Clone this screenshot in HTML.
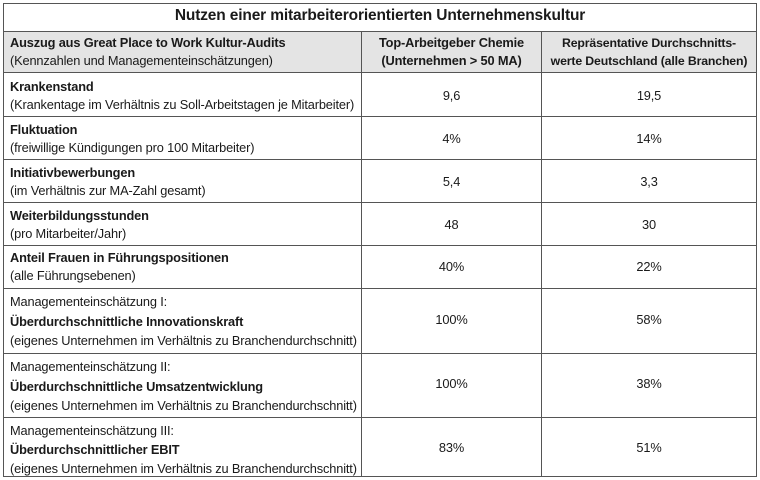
<!DOCTYPE html>
<html><head><meta charset="utf-8"><style>
body{margin:0;width:760px;height:480px;background:#fff;position:relative;font-family:"Liberation Sans",Arial,sans-serif;color:#1a1a1a;overflow:hidden}
.h{position:absolute;height:0;border-top:1.5px solid #555}
.v{position:absolute;width:0;border-left:1.5px solid #555}
.t{position:absolute;font-size:12.8px;white-space:nowrap;line-height:18px;letter-spacing:-0.15px}
.c{text-align:center}
b{font-weight:bold}
</style></head><body>
<div style="position:absolute;left:3px;top:31px;width:754px;height:41px;background:#e4e4e4"></div>
<div class="h" style="left:3px;top:3px;width:754px"></div>
<div class="h" style="left:3px;top:31px;width:754px"></div>
<div class="h" style="left:3px;top:72px;width:754px"></div>
<div class="h" style="left:3px;top:116px;width:754px"></div>
<div class="h" style="left:3px;top:159px;width:754px"></div>
<div class="h" style="left:3px;top:202px;width:754px"></div>
<div class="h" style="left:3px;top:245px;width:754px"></div>
<div class="h" style="left:3px;top:288px;width:754px"></div>
<div class="h" style="left:3px;top:353px;width:754px"></div>
<div class="h" style="left:3px;top:417px;width:754px"></div>
<div class="h" style="left:3px;top:476px;width:754px"></div>
<div class="v" style="left:3px;top:3px;height:474px"></div>
<div class="v" style="left:756px;top:3px;height:474px"></div>
<div class="v" style="left:361px;top:31px;height:446px"></div>
<div class="v" style="left:541px;top:31px;height:446px"></div>

<div class="t c" style="left:3px;width:754px;top:7px;font-size:15.5px;font-weight:bold">Nutzen einer mitarbeiterorientierten Unternehmenskultur</div>

<div class="t" style="left:10px;top:34px"><b>Auszug aus Great Place to Work Kultur-Audits</b><br>(Kennzahlen und Managementeinschätzungen)</div>
<div class="t c" style="left:362px;width:179px;top:34px"><b>Top-Arbeitgeber Chemie<br>(Unternehmen &gt; 50 MA)</b></div>
<div class="t c" style="left:542px;width:214px;top:34px;font-size:12.3px"><b>Repräsentative Durchschnitts-<br>werte Deutschland (alle Branchen)</b></div>

<div class="t" style="left:10px;top:78px"><b>Krankenstand</b><br>(Krankentage im Verhältnis zu Soll-Arbeitstagen je Mitarbeiter)</div>
<div class="t c" style="left:362px;width:179px;top:87px">9,6</div>
<div class="t c" style="left:542px;width:214px;top:87px">19,5</div>

<div class="t" style="left:10px;top:121px"><b>Fluktuation</b><br>(freiwillige Kündigungen pro 100 Mitarbeiter)</div>
<div class="t c" style="left:362px;width:179px;top:130px">4%</div>
<div class="t c" style="left:542px;width:214px;top:130px">14%</div>

<div class="t" style="left:10px;top:164px"><b>Initiativbewerbungen</b><br>(im Verhältnis zur MA-Zahl gesamt)</div>
<div class="t c" style="left:362px;width:179px;top:173px">5,4</div>
<div class="t c" style="left:542px;width:214px;top:173px">3,3</div>

<div class="t" style="left:10px;top:207px"><b>Weiterbildungsstunden</b><br>(pro Mitarbeiter/Jahr)</div>
<div class="t c" style="left:362px;width:179px;top:216px">48</div>
<div class="t c" style="left:542px;width:214px;top:216px">30</div>

<div class="t" style="left:10px;top:249px"><b>Anteil Frauen in Führungspositionen</b><br>(alle Führungsebenen)</div>
<div class="t c" style="left:362px;width:179px;top:258px">40%</div>
<div class="t c" style="left:542px;width:214px;top:258px">22%</div>

<div class="t" style="left:10px;top:292px;line-height:19.5px">Managementeinschätzung I:<br><b>Überdurchschnittliche Innovationskraft</b><br>(eigenes Unternehmen im Verhältnis zu Branchendurchschnitt)</div>
<div class="t c" style="left:362px;width:179px;top:311px">100%</div>
<div class="t c" style="left:542px;width:214px;top:311px">58%</div>

<div class="t" style="left:10px;top:357px;line-height:19.5px">Managementeinschätzung II:<br><b>Überdurchschnittliche Umsatzentwicklung</b><br>(eigenes Unternehmen im Verhältnis zu Branchendurchschnitt)</div>
<div class="t c" style="left:362px;width:179px;top:375px">100%</div>
<div class="t c" style="left:542px;width:214px;top:375px">38%</div>

<div class="t" style="left:10px;top:421px;line-height:19px">Managementeinschätzung III:<br><b>Überdurchschnittlicher EBIT</b><br>(eigenes Unternehmen im Verhältnis zu Branchendurchschnitt)</div>
<div class="t c" style="left:362px;width:179px;top:439px">83%</div>
<div class="t c" style="left:542px;width:214px;top:439px">51%</div>
</body></html>
